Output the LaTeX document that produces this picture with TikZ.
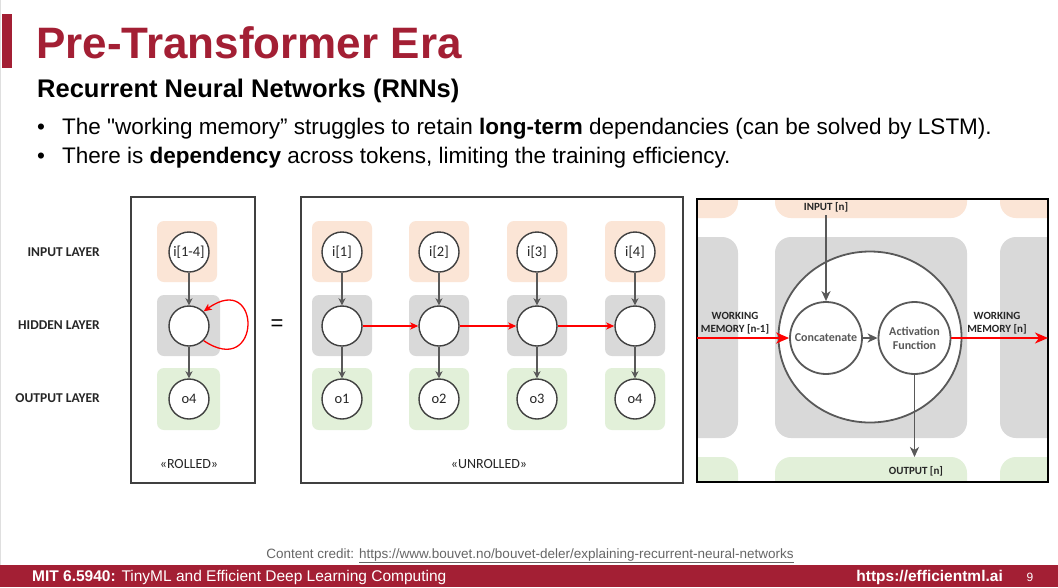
\documentclass[tikz,border=0pt]{standalone}
\usepackage{fontspec}
\setmainfont{Liberation Sans}
\newfontfamily\nomap{Liberation Sans}
\newfontfamily\calfont{Carlito}
\usetikzlibrary{arrows.meta,shapes.geometric}
\definecolor{mitred}{HTML}{A31F34}
\definecolor{peach}{HTML}{FBE5D6}
\definecolor{hgray}{HTML}{D9D9D9}
\definecolor{lgreen}{HTML}{E2F0D9}
\definecolor{dgray}{HTML}{595959}
\definecolor{cstroke}{HTML}{404040}
\begin{document}
\begin{tikzpicture}[x=1pt,y=-1pt,
  frame/.style={draw=cstroke,line width=1.3pt},
  bgbox/.style={rounded corners=7pt},
  cell/.style={circle,draw=cstroke,line width=1.4pt,fill=white,minimum size=40pt,inner sep=0pt,font=\calfont\fontsize{14.5}{16}\selectfont,text=black!85},
  garr/.style={draw=dgray,line width=1.5pt,-{Stealth[length=7pt,width=7pt,inset=2pt]}},
  rarr/.style={draw=red,line width=1.3pt,-{Stealth[length=8pt,width=7pt,inset=2pt]}},
  layer/.style={anchor=east,inner sep=0pt,font=\calfont\bfseries\fontsize{13.5}{15}\selectfont,text=black!85},
  captxt/.style={font=\calfont\fontsize{14}{16}\selectfont,text=black!85},
  bul/.style={anchor=base west,font=\fontsize{22.5}{26}\selectfont},
  rlab/.style={font=\calfont\bfseries\fontsize{11}{12.5}\selectfont,align=center,text=black!85},
  rcell/.style={circle,draw=dgray,line width=1.8pt,fill=white,minimum size=72pt,inner sep=0pt,align=center,font=\calfont\bfseries\fontsize{12}{14}\selectfont,text=dgray},
  rgarr/.style={draw=dgray,line width=1.8pt,-{Stealth[length=10pt,width=9pt,inset=3pt]}},
  rrarr/.style={draw=red,line width=2pt,-{Stealth[length=13pt,width=11pt,inset=4pt]}}
]
\useasboundingbox (0,0) rectangle (1058,587);
\fill[white] (0,0) rectangle (1058,587);
\draw[gray!25,line width=1pt] (0.5,0) -- (0.5,565);
% title
\fill[mitred] (2,14) rectangle (12,68);
\node[anchor=base west,inner sep=0pt,text=mitred,font=\fontsize{44}{50}\selectfont\bfseries] (title) at (36,58) {Pre-Transformer Era};
\node[anchor=base west,inner sep=0pt,font=\fontsize{25.5}{29}\selectfont\bfseries] (sub) at (37,97) {Recurrent Neural Networks (RNNs)};
\node[bul,inner sep=0pt] (b1) at (37,134) {\textbullet};
\node[bul,inner sep=0pt] (t1) at (62,134) {The {\nomap"}working memory” struggles to retain \textbf{long-term} dependancies (can be solved by LSTM).};
\node[bul,inner sep=0pt] (b2) at (37,163) {\textbullet};
\node[bul,inner sep=0pt] (t2) at (62,163) {There is \textbf{dependency} across tokens, limiting the training efficiency.};
% layer labels
\node[layer] (lin) at (100,252) {INPUT LAYER};
\node[layer] (lhid) at (100,325) {HIDDEN LAYER};
\node[layer] (lout) at (100,398) {OUTPUT LAYER};
% rolled
\draw[frame] (131,197) rectangle (255,483);
\fill[peach,bgbox] (157,221) rectangle (217,282);
\fill[hgray,bgbox] (157,295) rectangle (220,356);
\fill[lgreen,bgbox] (157,368) rectangle (220,430);
\node[cell] (i0) at (189,252) {i[1-4]};
\node[cell] (h0) at (189,326) {};
\node[cell] (o0) at (189,399) {o4};
\draw[garr] (i0) -- (h0);
\draw[garr] (h0) -- (o0);
\draw[rarr] (h0.-45) .. controls (262,380) and (262,270) .. (h0.45);
\node[captxt] (rolled) at (189,464) {«ROLLED»};
\node[font=\fontsize{22}{24}\selectfont] (eq) at (277,325) {=};
% unrolled
\draw[frame] (301,197) rectangle (683,483);
\foreach \n/\x in {1/342,2/439,3/537,4/635}{
  \fill[peach,bgbox] (\x-30,221) rectangle (\x+30,282);
  \fill[hgray,bgbox] (\x-30,295) rectangle (\x+30,356);
  \fill[lgreen,bgbox] (\x-30,368) rectangle (\x+30,430);
  \node[cell] (i\n) at (\x,252) {i[\n]};
  \node[cell] (h\n) at (\x,326) {};
  \node[cell] (o\n) at (\x,399) {o\n};
  \draw[garr] (i\n) -- (h\n);
  \draw[garr] (h\n) -- (o\n);
}
\draw[rarr] (h1) -- (h2);
\draw[rarr] (h2) -- (h3);
\draw[rarr] (h3) -- (h4);
\node[captxt] (unrolled) at (489,464) {«UNROLLED»};
% right panel
\begin{scope}
\clip (697,199) rectangle (1048,482);
\foreach \xa/\xb in {546/738,775/967,1000/1192}{
  \fill[peach,rounded corners=16pt] (\xa,17) rectangle (\xb,218);
  \fill[hgray,rounded corners=16pt] (\xa,237) rectangle (\xb,438);
  \fill[lgreen,rounded corners=16pt] (\xa,457) rectangle (\xb,658);
}
\end{scope}
\draw[black,line width=1.6pt] (697,199) rectangle (1048,482);
\node[ellipse,draw=dgray,line width=1.8pt,fill=white,minimum width=183pt,minimum height=171pt,inner sep=0pt] (big) at (870,337) {};
\node[rcell] (conc) at (826,338) {Concatenate};
\node[rcell] (act) at (914.5,338) {Activation\\Function};
\node[rlab] (inlab) at (826,207) {INPUT [n]};
\node[rlab] (outlab) at (916,471) {OUTPUT [n]};
\node[rlab] (wmin) at (735,323) {WORKING\\MEMORY [n-1]};
\node[rlab] (wmout) at (997,323) {WORKING\\MEMORY [n]};
\coordinate (leftend) at (697,338);
\coordinate (rightend) at (1048,338);
\coordinate (outend) at (914.5,457);
\draw[rgarr] (inlab.south) -- (conc.north);
\draw[rgarr] (conc) -- (act);
\draw[rgarr] (act.south) -- (outend);
\draw[rrarr] (leftend) -- (conc.west);
\draw[rrarr] (act.east) -- (rightend);
% footer
\node[anchor=base,inner sep=0pt,font=\fontsize{13.5}{15}\selectfont,text=black!60] (credit) at (530,558) {Content credit: \underline{https://www.bouvet.no/bouvet-deler/explaining-recurrent-neural-networks}};
\fill[mitred] (0,565) rectangle (1058,587);
\node[anchor=base west,inner sep=0pt,text=white,font=\fontsize{15.5}{17}\selectfont] (foot) at (32,581) {\textbf{MIT 6.5940:} TinyML and Efficient Deep Learning Computing};
\node[anchor=base east,inner sep=0pt,text=white,font=\fontsize{15.5}{17}\selectfont\bfseries] (url) at (1003,581) {https://efficientml.ai};
\node[anchor=base,inner sep=0pt,text=white,font=\fontsize{12}{14}\selectfont] (pg) at (1030,581) {9};
\end{tikzpicture}
\end{document}
